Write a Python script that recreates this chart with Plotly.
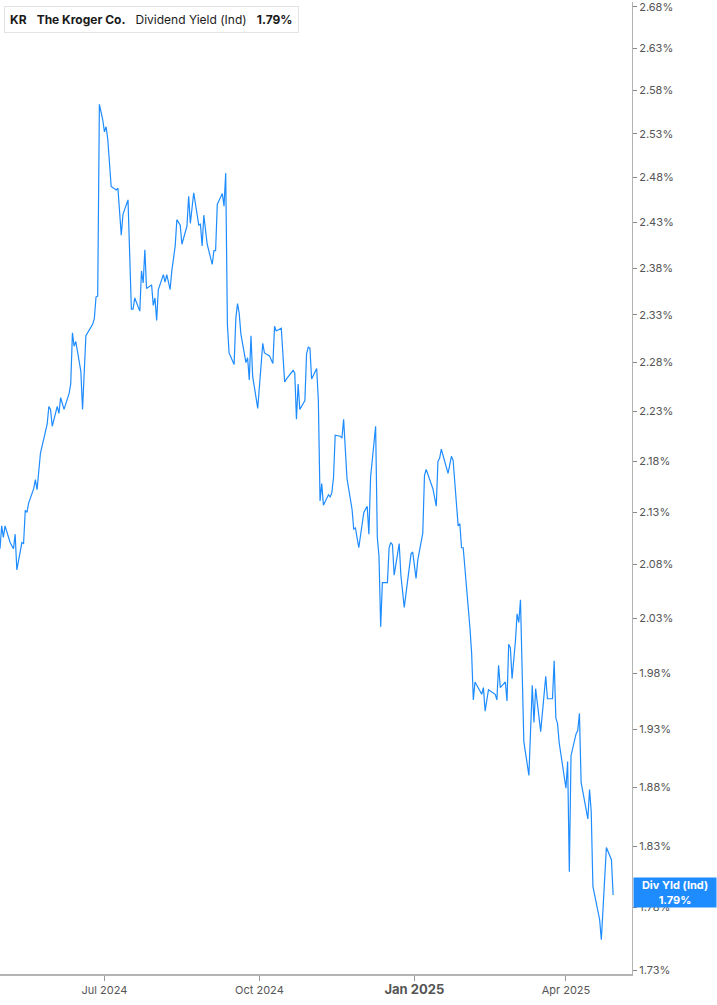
import plotly.graph_objects as go
import math

# dividend yield (%), one value per date
dates = [
    "2024-04-30", "2024-05-01", "2024-05-02", "2024-05-03", "2024-05-06", "2024-05-08", "2024-05-09", "2024-05-10",
    "2024-05-13", "2024-05-14", "2024-05-15", "2024-05-16", "2024-05-17", "2024-05-20", "2024-05-21", "2024-05-22",
    "2024-05-24", "2024-05-28", "2024-05-29", "2024-05-30", "2024-05-31", "2024-06-03", "2024-06-04", "2024-06-05",
    "2024-06-07", "2024-06-10", "2024-06-11", "2024-06-12", "2024-06-13", "2024-06-14", "2024-06-17", "2024-06-18",
    "2024-06-20", "2024-06-24", "2024-06-25", "2024-06-26", "2024-06-27", "2024-06-28", "2024-06-30", "2024-07-01",
    "2024-07-02", "2024-07-03", "2024-07-05", "2024-07-08", "2024-07-09", "2024-07-11", "2024-07-12", "2024-07-15",
    "2024-07-17", "2024-07-18", "2024-07-19", "2024-07-22", "2024-07-23", "2024-07-24", "2024-07-25", "2024-07-26",
    "2024-07-29", "2024-07-30", "2024-07-31", "2024-08-01", "2024-08-02", "2024-08-05", "2024-08-06", "2024-08-07",
    "2024-08-09", "2024-08-10", "2024-08-12", "2024-08-13", "2024-08-15", "2024-08-16", "2024-08-19", "2024-08-20",
    "2024-08-21", "2024-08-23", "2024-08-26", "2024-08-27", "2024-08-28", "2024-08-29", "2024-08-31", "2024-09-03",
    "2024-09-04", "2024-09-05", "2024-09-06", "2024-09-09", "2024-09-10", "2024-09-11", "2024-09-12", "2024-09-13",
    "2024-09-16", "2024-09-17", "2024-09-18", "2024-09-19", "2024-09-20", "2024-09-23", "2024-09-24", "2024-09-25",
    "2024-09-26", "2024-09-27", "2024-09-30", "2024-10-02", "2024-10-03", "2024-10-04", "2024-10-07", "2024-10-09",
    "2024-10-10", "2024-10-11", "2024-10-14", "2024-10-16", "2024-10-17", "2024-10-21", "2024-10-22", "2024-10-23",
    "2024-10-24", "2024-10-25", "2024-10-28", "2024-10-29", "2024-10-30", "2024-10-31", "2024-11-01", "2024-11-04",
    "2024-11-05", "2024-11-06", "2024-11-07", "2024-11-08", "2024-11-11", "2024-11-12", "2024-11-13", "2024-11-14",
    "2024-11-15", "2024-11-18", "2024-11-19", "2024-11-20", "2024-11-22", "2024-11-25", "2024-11-26", "2024-11-27",
    "2024-11-29", "2024-12-02", "2024-12-04", "2024-12-05", "2024-12-06", "2024-12-09", "2024-12-10", "2024-12-11",
    "2024-12-12", "2024-12-13", "2024-12-16", "2024-12-17", "2024-12-18", "2024-12-19", "2024-12-20", "2024-12-23",
    "2024-12-24", "2024-12-26", "2024-12-28", "2024-12-30", "2024-12-31", "2025-01-02", "2025-01-03", "2025-01-06",
    "2025-01-07", "2025-01-08", "2025-01-12", "2025-01-14", "2025-01-15", "2025-01-16", "2025-01-17", "2025-01-21",
    "2025-01-23", "2025-01-24", "2025-01-27", "2025-01-28", "2025-01-29", "2025-01-30", "2025-02-03", "2025-02-04",
    "2025-02-05", "2025-02-06", "2025-02-10", "2025-02-11", "2025-02-12", "2025-02-14", "2025-02-18", "2025-02-19",
    "2025-02-20", "2025-02-21", "2025-02-24", "2025-02-25", "2025-02-26", "2025-02-27", "2025-02-28", "2025-03-02",
    "2025-03-03", "2025-03-04", "2025-03-05", "2025-03-07", "2025-03-10", "2025-03-12", "2025-03-13", "2025-03-14",
    "2025-03-17", "2025-03-20", "2025-03-21", "2025-03-24", "2025-03-25", "2025-03-26", "2025-03-27", "2025-03-28",
    "2025-04-01", "2025-04-02", "2025-04-03", "2025-04-04", "2025-04-07", "2025-04-08", "2025-04-09", "2025-04-10",
    "2025-04-14", "2025-04-15", "2025-04-16", "2025-04-17", "2025-04-21", "2025-04-22", "2025-04-25", "2025-04-28",
    "2025-04-29",
]
div_yield = [
    2.095, 2.117, 2.106, 2.117, 2.101, 2.095, 2.109, 2.075,
    2.101, 2.100, 2.132, 2.130, 2.139, 2.153, 2.162, 2.152,
    2.188, 2.217, 2.235, 2.232, 2.215, 2.235, 2.228, 2.244,
    2.232, 2.248, 2.258, 2.311, 2.297, 2.302, 2.271, 2.232,
    2.308, 2.320, 2.326, 2.349, 2.350, 2.564, 2.546, 2.532,
    2.538, 2.523, 2.470, 2.466, 2.468, 2.416, 2.439, 2.455,
    2.336, 2.336, 2.348, 2.334, 2.377, 2.364, 2.400, 2.358,
    2.362, 2.340, 2.348, 2.324, 2.357, 2.373, 2.365, 2.373,
    2.357, 2.377, 2.404, 2.433, 2.427, 2.406, 2.426, 2.459,
    2.429, 2.463, 2.427, 2.428, 2.404, 2.438, 2.406, 2.384,
    2.399, 2.399, 2.450, 2.462, 2.448, 2.485, 2.320, 2.290,
    2.278, 2.326, 2.342, 2.332, 2.310, 2.280, 2.285, 2.262,
    2.308, 2.266, 2.233, 2.284, 2.300, 2.290, 2.287, 2.279,
    2.318, 2.313, 2.316, 2.260, 2.263, 2.272, 2.269, 2.222,
    2.258, 2.232, 2.241, 2.289, 2.296, 2.295, 2.263, 2.274,
    2.241, 2.141, 2.158, 2.137, 2.147, 2.145, 2.149, 2.164,
    2.206, 2.205, 2.203, 2.222, 2.163, 2.133, 2.114, 2.115,
    2.096, 2.130, 2.136, 2.109, 2.164, 2.215, 2.106, 2.088,
    2.022, 2.063, 2.063, 2.096, 2.101, 2.099, 2.070, 2.100,
    2.070, 2.040, 2.067, 2.090, 2.092, 2.067, 2.084, 2.110,
    2.166, 2.172, 2.153, 2.136, 2.180, 2.183, 2.192, 2.168,
    2.185, 2.181, 2.117, 2.119, 2.096, 2.096, 2.021, 1.998,
    1.956, 1.972, 1.961, 1.967, 1.946, 1.965, 1.961, 1.956,
    1.987, 1.967, 1.972, 1.955, 2.006, 2.003, 1.975, 2.009,
    2.034, 2.026, 2.047, 1.919, 1.890, 1.969, 1.936, 1.966,
    1.928, 1.977, 1.957, 1.957, 1.991, 1.940, 1.935, 1.918,
    1.879, 1.902, 1.809, 1.907, 1.926, 1.929, 1.944, 1.884,
    1.853, 1.878, 1.859, 1.797, 1.770, 1.754, 1.829, 1.819,
    1.790,
]

y_ticks = [1.73, 1.78, 1.83, 1.88, 1.93, 1.98, 2.03, 2.08, 2.13, 2.18,
           2.23, 2.28, 2.33, 2.38, 2.43, 2.48, 2.53, 2.58, 2.63, 2.68]
x_ticks = ["2024-07-01", "2024-10-01", "2025-01-01", "2025-04-01"]
x_tick_labels = ["Jul 2024", "Oct 2024", "<b><span style='font-size:13px'>Jan 2025</span></b>", "Apr 2025"]

blue = "#1e8cff"
last = div_yield[-1]

fig = go.Figure()
fig.add_trace(go.Scatter(x=dates, y=div_yield, mode="lines",
                         line=dict(color=blue, width=1.2), hoverinfo="skip"))

fig.update_layout(
    width=717, height=1005,
    margin=dict(l=0, r=85, t=0, b=31),
    paper_bgcolor="white", plot_bgcolor="white",
    showlegend=False,
    font=dict(family="Inter, Roboto, sans-serif", size=11, color="#555555"),
)
fig.update_xaxes(
    range=["2024-04-30", "2025-05-10 05:00"],
    tickvals=x_ticks, ticktext=x_tick_labels,
    showgrid=False, zeroline=False,
    showline=True, linecolor="#b3b3b3", linewidth=2,
    ticks="outside", ticklen=5, tickcolor="#999999",
    tickfont=dict(size=11, color="#555555"),
)
fig.update_yaxes(
    type="log", side="right",
    range=[math.log10(1.7269), math.log10(2.686)],
    tickvals=y_ticks, ticktext=[f"{v:.2f}%" for v in y_ticks],
    showgrid=False, zeroline=False,
    showline=True, linecolor="#b3b3b3", linewidth=1,
    ticks="outside", ticklen=4, tickcolor="#888888",
    tickfont=dict(size=11, color="#555555"),
    ticklabeloverflow="allow",
)

# legend box top left
sp = "\u00a0\u00a0\u00a0"
fig.add_annotation(
    xref="paper", yref="paper", x=0, y=1, xanchor="left", yanchor="top",
    xshift=4, yshift=-4,
    text=f"<b>KR</b>{sp}<b>The Kroger Co.</b>{sp}Dividend Yield (Ind){sp}<b>{last:.2f}%</b>",
    showarrow=False, align="left",
    font=dict(size=12, color="#1a1a1a", family="Inter, Roboto, sans-serif"),
    bgcolor="white", bordercolor="#e3e3e3", borderwidth=1, borderpad=5,
)
fig.add_shape(type="rect", xref="paper", yref="paper",
              xsizemode="pixel", ysizemode="pixel", xanchor=0, yanchor=1,
              x0=4, x1=7, y0=-5, y1=-31,
              fillcolor=blue, line=dict(width=0))

# last value tag on the right axis
fig.add_annotation(
    xref="paper", yref="y", x=1, y=math.log10(last), xanchor="left", yanchor="middle",
    xshift=1, yshift=3,
    text=f"<b>Div Yld (Ind)</b><br><b>{last:.2f}%</b>",
    showarrow=False, align="center", width=80, height=27,
    font=dict(size=11, color="white", family="Inter, Roboto, sans-serif"),
    bgcolor=blue, borderpad=1,
)

fig.write_html("out.html", config={"displayModeBar": False},
               post_script="document.body.style.margin='0';document.body.style.padding='0';")
